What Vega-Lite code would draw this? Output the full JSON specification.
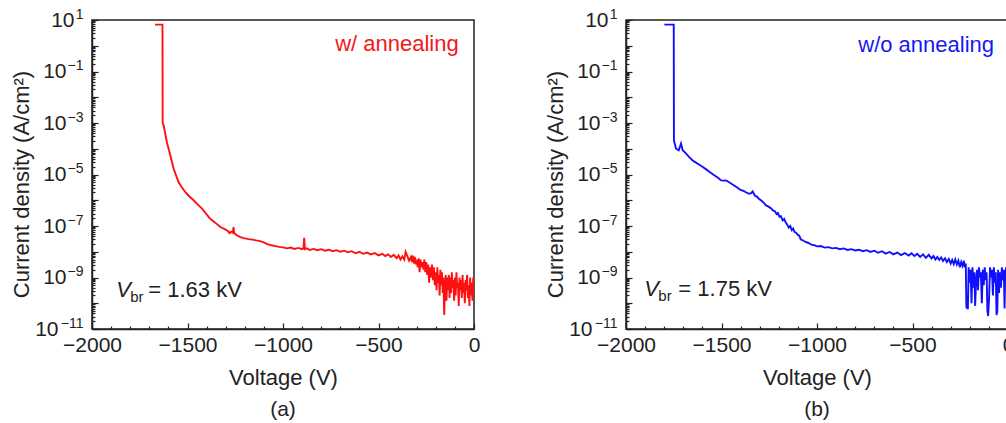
{
  "$schema": "https://vega.github.io/schema/vega-lite/v6.json",
  "background": "white",
  "padding": {"left": 9, "top": 6, "right": 0, "bottom": 0},
  "spacing": 62,
  "config": {
    "font": "Liberation Sans",
    "view": {"stroke": "#222222", "strokeWidth": 1.5},
    "axis": {
      "labelFont": "Liberation Sans", "labelFontSize": 21, "labelColor": "#222222",
      "titleFont": "Liberation Sans", "titleFontSize": 22, "titleFontWeight": "normal", "titleColor": "#222222",
      "domainColor": "#222222", "domainWidth": 1.5, "tickColor": "#222222", "tickWidth": 1.2,
      "grid": false, "labelFlush": false, "labelOverlap": false, "labelBound": false
    },
    "title": {"font": "Liberation Sans", "fontSize": 21, "fontWeight": "normal", "color": "#222222"}
  },
  "datasets": {
    "red": [
      {"v": 0, "j": 2.5e-10}, {"v": -4, "j": 1.0e-9}, {"v": -8, "j": 1.26e-10}, {"v": -12, "j": 6.3e-10},
      {"v": -16, "j": 2.0e-10}, {"v": -20, "j": 1.0e-9}, {"v": -24, "j": 7.9e-11}, {"v": -28, "j": 5.0e-10},
      {"v": -32, "j": 1.6e-10}, {"v": -36, "j": 1.26e-9}, {"v": -40, "j": 3.2e-10}, {"v": -44, "j": 7.9e-10},
      {"v": -48, "j": 1.0e-10}, {"v": -52, "j": 6.3e-10}, {"v": -56, "j": 2.5e-10}, {"v": -60, "j": 1.26e-9},
      {"v": -64, "j": 1.6e-10}, {"v": -68, "j": 7.9e-10}, {"v": -72, "j": 3.2e-10}, {"v": -76, "j": 1.0e-9},
      {"v": -80, "j": 7.9e-11}, {"v": -84, "j": 6.3e-10}, {"v": -88, "j": 4.0e-10}, {"v": -92, "j": 1.6e-9},
      {"v": -96, "j": 2.0e-10}, {"v": -100, "j": 1.0e-9}, {"v": -104, "j": 1.26e-10}, {"v": -108, "j": 7.9e-10},
      {"v": -112, "j": 4.0e-10}, {"v": -116, "j": 1.6e-9}, {"v": -120, "j": 2.5e-10}, {"v": -124, "j": 1.0e-9},
      {"v": -128, "j": 1.6e-10}, {"v": -132, "j": 1.26e-9}, {"v": -136, "j": 3.2e-10}, {"v": -140, "j": 1.0e-9},
      {"v": -144, "j": 1.26e-10}, {"v": -148, "j": 1.26e-9}, {"v": -152, "j": 4.0e-10}, {"v": -156, "j": 3.5e-11},
      {"v": -160, "j": 1.0e-9}, {"v": -164, "j": 2.5e-10}, {"v": -168, "j": 1.6e-9}, {"v": -172, "j": 5.0e-10},
      {"v": -176, "j": 2.0e-9}, {"v": -180, "j": 2.0e-10}, {"v": -184, "j": 1.26e-9}, {"v": -188, "j": 6.3e-10},
      {"v": -192, "j": 2.5e-9}, {"v": -196, "j": 3.2e-10}, {"v": -200, "j": 1.6e-9}, {"v": -205, "j": 5.0e-10},
      {"v": -210, "j": 2.5e-9}, {"v": -215, "j": 7.9e-10}, {"v": -220, "j": 3.2e-9}, {"v": -225, "j": 1.0e-9},
      {"v": -230, "j": 2.5e-9}, {"v": -235, "j": 6.3e-10}, {"v": -240, "j": 3.2e-9}, {"v": -245, "j": 1.26e-9},
      {"v": -250, "j": 4.0e-9}, {"v": -255, "j": 1.6e-9}, {"v": -260, "j": 5.0e-9}, {"v": -265, "j": 2.0e-9},
      {"v": -270, "j": 4.0e-9}, {"v": -275, "j": 2.5e-9}, {"v": -280, "j": 5.0e-9}, {"v": -285, "j": 1.6e-9},
      {"v": -290, "j": 5.6e-9}, {"v": -295, "j": 2.5e-9}, {"v": -300, "j": 5.0e-9}, {"v": -305, "j": 3.2e-9},
      {"v": -310, "j": 6.3e-9}, {"v": -315, "j": 3.5e-9}, {"v": -320, "j": 7.1e-9}, {"v": -325, "j": 4.0e-9},
      {"v": -330, "j": 6.3e-9}, {"v": -340, "j": 4.5e-9}, {"v": -350, "j": 7.1e-9}, {"v": -358, "j": 1.0e-8},
      {"v": -365, "j": 5.0e-9}, {"v": -375, "j": 6.6e-9}, {"v": -385, "j": 5.0e-9}, {"v": -395, "j": 7.2e-9},
      {"v": -405, "j": 5.6e-9}, {"v": -420, "j": 7.6e-9}, {"v": -435, "j": 6.3e-9}, {"v": -450, "j": 7.9e-9},
      {"v": -465, "j": 6.8e-9}, {"v": -480, "j": 8.3e-9}, {"v": -500, "j": 7.2e-9}, {"v": -520, "j": 8.9e-9},
      {"v": -540, "j": 7.9e-9}, {"v": -560, "j": 9.3e-9}, {"v": -580, "j": 8.3e-9}, {"v": -600, "j": 1.0e-8},
      {"v": -620, "j": 8.7e-9}, {"v": -640, "j": 1.05e-8}, {"v": -660, "j": 9.5e-9}, {"v": -680, "j": 1.1e-8},
      {"v": -700, "j": 1.0e-8}, {"v": -720, "j": 1.15e-8}, {"v": -740, "j": 1.05e-8}, {"v": -760, "j": 1.2e-8},
      {"v": -780, "j": 1.1e-8}, {"v": -800, "j": 1.26e-8}, {"v": -820, "j": 1.15e-8}, {"v": -840, "j": 1.29e-8},
      {"v": -860, "j": 1.17e-8}, {"v": -875, "j": 1.35e-8}, {"v": -885, "j": 1.26e-8}, {"v": -889, "j": 3.5e-8},
      {"v": -893, "j": 1.32e-8}, {"v": -900, "j": 1.26e-8}, {"v": -920, "j": 1.41e-8}, {"v": -940, "j": 1.29e-8},
      {"v": -960, "j": 1.45e-8}, {"v": -980, "j": 1.35e-8}, {"v": -1000, "j": 1.48e-8}, {"v": -1020, "j": 1.55e-8},
      {"v": -1040, "j": 1.66e-8}, {"v": -1060, "j": 1.78e-8}, {"v": -1080, "j": 1.95e-8}, {"v": -1100, "j": 2.3e-8},
      {"v": -1120, "j": 2.6e-8}, {"v": -1140, "j": 2.75e-8}, {"v": -1160, "j": 2.95e-8}, {"v": -1180, "j": 3.1e-8},
      {"v": -1200, "j": 3.3e-8}, {"v": -1223, "j": 3.7e-8}, {"v": -1240, "j": 4.3e-8}, {"v": -1250, "j": 4.9e-8},
      {"v": -1256, "j": 5.6e-8}, {"v": -1259, "j": 9.1e-8}, {"v": -1263, "j": 5.5e-8}, {"v": -1272, "j": 6.0e-8},
      {"v": -1280, "j": 5.2e-8}, {"v": -1287, "j": 6.3e-8}, {"v": -1305, "j": 7.6e-8}, {"v": -1328, "j": 9.1e-8},
      {"v": -1355, "j": 1.35e-7}, {"v": -1381, "j": 1.9e-7}, {"v": -1403, "j": 3.0e-7}, {"v": -1424, "j": 4.7e-7},
      {"v": -1446, "j": 6.8e-7}, {"v": -1468, "j": 1.0e-6}, {"v": -1490, "j": 1.4e-6}, {"v": -1512, "j": 2.1e-6},
      {"v": -1530, "j": 3.2e-6}, {"v": -1547, "j": 5.1e-6}, {"v": -1560, "j": 9.3e-6}, {"v": -1573, "j": 1.7e-5},
      {"v": -1581, "j": 3.0e-5}, {"v": -1590, "j": 5.6e-5}, {"v": -1599, "j": 1.0e-4}, {"v": -1608, "j": 1.8e-4},
      {"v": -1617, "j": 4.0e-4}, {"v": -1625, "j": 8.1e-4}, {"v": -1630, "j": 1.0e-3}, {"v": -1631, "j": 6.6},
      {"v": -1670, "j": 6.6}
    ],
    "blue": [
      {"v": 0, "j": 2.0e-9}, {"v": -5, "j": 5.0e-10}, {"v": -10, "j": 2.5e-9}, {"v": -15, "j": 1.0e-9},
      {"v": -18, "j": 6.3e-11}, {"v": -22, "j": 2.0e-9}, {"v": -27, "j": 7.9e-10}, {"v": -32, "j": 2.5e-9},
      {"v": -37, "j": 4.0e-10}, {"v": -42, "j": 1.6e-9}, {"v": -47, "j": 2.5e-10}, {"v": -52, "j": 2.0e-9},
      {"v": -56, "j": 5.0e-11}, {"v": -60, "j": 3.5e-11}, {"v": -64, "j": 1.6e-9}, {"v": -69, "j": 6.3e-10},
      {"v": -74, "j": 2.5e-9}, {"v": -79, "j": 2.0e-10}, {"v": -84, "j": 2.0e-9}, {"v": -89, "j": 1.0e-9},
      {"v": -94, "j": 2.5e-9}, {"v": -99, "j": 1.6e-10}, {"v": -104, "j": 3.2e-11}, {"v": -108, "j": 5.0e-11},
      {"v": -112, "j": 1.6e-9}, {"v": -117, "j": 7.9e-10}, {"v": -122, "j": 2.5e-9}, {"v": -127, "j": 5.0e-10},
      {"v": -132, "j": 2.0e-9}, {"v": -137, "j": 1.0e-10}, {"v": -142, "j": 1.6e-9}, {"v": -147, "j": 1.0e-9},
      {"v": -152, "j": 2.5e-9}, {"v": -157, "j": 3.2e-10}, {"v": -162, "j": 2.0e-9}, {"v": -167, "j": 7.9e-10},
      {"v": -172, "j": 7.9e-11}, {"v": -176, "j": 1.6e-9}, {"v": -181, "j": 4.0e-10}, {"v": -186, "j": 2.5e-9},
      {"v": -191, "j": 1.0e-10}, {"v": -196, "j": 2.0e-9}, {"v": -201, "j": 6.3e-10}, {"v": -206, "j": 2.5e-9},
      {"v": -210, "j": 6.3e-11}, {"v": -214, "j": 6.3e-11}, {"v": -218, "j": 7.1e-11}, {"v": -221, "j": 3.5e-9},
      {"v": -226, "j": 2.5e-9}, {"v": -231, "j": 4.5e-9}, {"v": -238, "j": 2.8e-9}, {"v": -245, "j": 4.0e-9},
      {"v": -252, "j": 2.5e-9}, {"v": -260, "j": 4.5e-9}, {"v": -268, "j": 3.2e-9}, {"v": -276, "j": 5.0e-9},
      {"v": -284, "j": 3.3e-9}, {"v": -292, "j": 4.8e-9}, {"v": -300, "j": 3.5e-9}, {"v": -310, "j": 5.2e-9},
      {"v": -320, "j": 4.0e-9}, {"v": -330, "j": 5.6e-9}, {"v": -340, "j": 4.4e-9}, {"v": -350, "j": 6.0e-9},
      {"v": -360, "j": 4.8e-9}, {"v": -370, "j": 6.3e-9}, {"v": -380, "j": 5.0e-9}, {"v": -390, "j": 6.8e-9},
      {"v": -400, "j": 5.5e-9}, {"v": -415, "j": 7.6e-9}, {"v": -430, "j": 5.8e-9}, {"v": -445, "j": 7.9e-9},
      {"v": -460, "j": 6.3e-9}, {"v": -475, "j": 8.3e-9}, {"v": -490, "j": 6.8e-9}, {"v": -505, "j": 8.7e-9},
      {"v": -520, "j": 7.1e-9}, {"v": -540, "j": 8.9e-9}, {"v": -560, "j": 7.4e-9}, {"v": -580, "j": 9.3e-9},
      {"v": -600, "j": 7.9e-9}, {"v": -620, "j": 9.8e-9}, {"v": -640, "j": 8.5e-9}, {"v": -660, "j": 1.05e-8},
      {"v": -680, "j": 9.1e-9}, {"v": -700, "j": 1.1e-8}, {"v": -720, "j": 9.8e-9}, {"v": -740, "j": 1.15e-8},
      {"v": -760, "j": 1.05e-8}, {"v": -780, "j": 1.2e-8}, {"v": -800, "j": 1.12e-8}, {"v": -820, "j": 1.26e-8},
      {"v": -840, "j": 1.17e-8}, {"v": -860, "j": 1.35e-8}, {"v": -880, "j": 1.26e-8}, {"v": -900, "j": 1.41e-8},
      {"v": -920, "j": 1.35e-8}, {"v": -940, "j": 1.51e-8}, {"v": -960, "j": 1.45e-8}, {"v": -980, "j": 1.66e-8},
      {"v": -1000, "j": 1.62e-8}, {"v": -1015, "j": 1.82e-8}, {"v": -1030, "j": 1.9e-8}, {"v": -1045, "j": 2.19e-8},
      {"v": -1060, "j": 2.4e-8}, {"v": -1075, "j": 2.8e-8}, {"v": -1085, "j": 3.0e-8}, {"v": -1093, "j": 4.2e-8},
      {"v": -1100, "j": 4.5e-8}, {"v": -1110, "j": 5.5e-8}, {"v": -1118, "j": 5.9e-8}, {"v": -1125, "j": 7.9e-8},
      {"v": -1132, "j": 6.9e-8}, {"v": -1140, "j": 1.0e-7}, {"v": -1148, "j": 8.7e-8}, {"v": -1155, "j": 1.1e-7},
      {"v": -1165, "j": 1.41e-7}, {"v": -1172, "j": 1.9e-7}, {"v": -1180, "j": 1.66e-7}, {"v": -1189, "j": 2.4e-7},
      {"v": -1197, "j": 2.3e-7}, {"v": -1205, "j": 3.2e-7}, {"v": -1212, "j": 2.9e-7}, {"v": -1220, "j": 3.7e-7},
      {"v": -1232, "j": 4.1e-7}, {"v": -1240, "j": 4.8e-7}, {"v": -1250, "j": 5.4e-7}, {"v": -1258, "j": 5.9e-7},
      {"v": -1267, "j": 6.3e-7}, {"v": -1276, "j": 7.6e-7}, {"v": -1290, "j": 9.5e-7}, {"v": -1303, "j": 1.12e-6},
      {"v": -1315, "j": 1.38e-6}, {"v": -1325, "j": 1.5e-6}, {"v": -1337, "j": 2.2e-6}, {"v": -1345, "j": 1.9e-6},
      {"v": -1355, "j": 1.78e-6}, {"v": -1370, "j": 2.0e-6}, {"v": -1385, "j": 2.3e-6}, {"v": -1400, "j": 2.5e-6},
      {"v": -1420, "j": 3.2e-6}, {"v": -1440, "j": 4.0e-6}, {"v": -1460, "j": 5.0e-6}, {"v": -1476, "j": 5.9e-6},
      {"v": -1490, "j": 5.8e-6}, {"v": -1502, "j": 5.9e-6}, {"v": -1520, "j": 7.6e-6}, {"v": -1540, "j": 9.5e-6},
      {"v": -1562, "j": 1.26e-5}, {"v": -1580, "j": 1.58e-5}, {"v": -1600, "j": 2.0e-5}, {"v": -1620, "j": 2.5e-5},
      {"v": -1640, "j": 3.1e-5}, {"v": -1651, "j": 3.5e-5}, {"v": -1670, "j": 4.8e-5}, {"v": -1690, "j": 7.1e-5},
      {"v": -1703, "j": 8.7e-5}, {"v": -1712, "j": 1.58e-4}, {"v": -1724, "j": 8.7e-5}, {"v": -1738, "j": 1.0e-4},
      {"v": -1749, "j": 2.1e-4}, {"v": -1750, "j": 6.6}, {"v": -1799, "j": 6.6}
    ]
  },
  "hconcat": [
    {
      "width": 382, "height": 309,
      "title": {"text": "(a)", "orient": "bottom", "offset": 11},
      "resolve": {"axis": {"x": "independent", "y": "independent"}},
      "layer": [
        {
          "data": {"name": "red"},
          "mark": {"type": "line", "color": "#ff1010", "strokeWidth": 1.9, "clip": true},
          "encoding": {
            "x": {"field": "v", "type": "quantitative", "scale": {"domain": [-2000, 0]},
              "axis": {"orient": "bottom", "title": "Voltage (V)", "values": [-2000, -1500, -1000, -500, 0], "format": "d", "tickSize": -6, "labelPadding": 11, "titlePadding": 12}},
            "y": {"field": "j", "type": "quantitative", "scale": {"type": "log", "domain": [1e-11, 10]},
              "axis": {"orient": "left", "title": "Current density (A/cm²)", "labels": false, "titlePadding": 58, "titleY": 164,
                "values": [1e-11, 1e-10, 1e-9, 1e-8, 1e-7, 1e-6, 1e-5, 1e-4, 0.001, 0.01, 0.1, 1, 10], "tickSize": -6}}
          }
        },
        {
          "data": {"name": "red"},
          "mark": {"type": "point", "opacity": 0},
          "encoding": {
            "x": {"field": "v", "type": "quantitative", "scale": {"domain": [-2000, 0]},
              "axis": {"orient": "bottom", "title": null, "labels": false, "domain": false, "tickSize": -3,
                "values": [-1900, -1800, -1700, -1600, -1400, -1300, -1200, -1100, -900, -800, -700, -600, -400, -300, -200, -100]}},
            "y": {"field": "j", "type": "quantitative", "scale": {"type": "log", "domain": [1e-11, 10]},
              "axis": {"orient": "left", "title": null, "labels": false, "domain": false, "tickSize": -3,
                "values": [2e-11,3e-11,4e-11,5e-11,6e-11,7e-11,8e-11,9e-11,2e-10,3e-10,4e-10,5e-10,6e-10,7e-10,8e-10,9e-10,2e-9,3e-9,4e-9,5e-9,6e-9,7e-9,8e-9,9e-9,2e-8,3e-8,4e-8,5e-8,6e-8,7e-8,8e-8,9e-8,2e-7,3e-7,4e-7,5e-7,6e-7,7e-7,8e-7,9e-7,2e-6,3e-6,4e-6,5e-6,6e-6,7e-6,8e-6,9e-6,2e-5,3e-5,4e-5,5e-5,6e-5,7e-5,8e-5,9e-5,2e-4,3e-4,4e-4,5e-4,6e-4,7e-4,8e-4,9e-4,0.002,0.003,0.004,0.005,0.006,0.007,0.008,0.009,0.02,0.03,0.04,0.05,0.06,0.07,0.08,0.09,0.2,0.3,0.4,0.5,0.6,0.7,0.8,0.9,2,3,4,5,6,7,8,9]}}
          }
        },
        {
          "data": {"name": "red"},
          "mark": {"type": "point", "opacity": 0},
          "encoding": {
            "x": {"field": "v", "type": "quantitative", "axis": null},
            "y": {"field": "j", "type": "quantitative", "scale": {"type": "log", "domain": [1e-11, 10]},
              "axis": {"orient": "left", "title": null, "ticks": false, "domain": false, "values": [10], "labelExpr": "'10'", "labelPadding": 18}}
          }
        },
        {
          "data": {"name": "red"},
          "mark": {"type": "point", "opacity": 0},
          "encoding": {
            "x": {"field": "v", "type": "quantitative", "axis": null},
            "y": {"field": "j", "type": "quantitative", "scale": {"type": "log", "domain": [1e-11, 10]},
              "axis": {"orient": "left", "title": null, "ticks": false, "domain": false, "values": [0.1, 0.001, 1e-5, 1e-7, 1e-9], "labelExpr": "'10'", "labelPadding": 26}}
          }
        },
        {
          "data": {"name": "red"},
          "mark": {"type": "point", "opacity": 0},
          "encoding": {
            "x": {"field": "v", "type": "quantitative", "axis": null},
            "y": {"field": "j", "type": "quantitative", "scale": {"type": "log", "domain": [1e-11, 10]},
              "axis": {"orient": "left", "title": null, "ticks": false, "domain": false, "values": [1e-11], "labelExpr": "'10'", "labelPadding": 34}}
          }
        },
        {
          "data": {"name": "red"},
          "mark": {"type": "point", "opacity": 0},
          "encoding": {
            "x": {"field": "v", "type": "quantitative", "axis": null},
            "y": {"field": "j", "type": "quantitative", "scale": {"type": "log", "domain": [1e-11, 10]},
              "axis": {"orient": "left", "title": null, "ticks": false, "domain": false, "values": [10, 0.1, 0.001, 1e-5, 1e-7, 1e-9, 1e-11],
                "labelExpr": "replace('' + round(log(datum.value)/LN10), '-', '−')", "labelFontSize": 14, "labelOffset": -6, "labelPadding": 9}}
          }
        },
        {
          "data": {"values": [{"v": -80, "j": 1.17, "t": "w/ annealing"}]},
          "mark": {"type": "text", "align": "right", "baseline": "middle", "fontSize": 22, "color": "#f01818"},
          "encoding": {
            "x": {"field": "v", "type": "quantitative", "axis": null},
            "y": {"field": "j", "type": "quantitative", "axis": null},
            "text": {"field": "t"}
          }
        },
        {
          "data": {"values": [{"v": -1873, "j": 3.2e-10, "t": "V"}]},
          "mark": {"type": "text", "align": "left", "baseline": "middle", "fontSize": 22, "fontStyle": "italic", "color": "#222222"},
          "encoding": {
            "x": {"field": "v", "type": "quantitative", "axis": null},
            "y": {"field": "j", "type": "quantitative", "axis": null},
            "text": {"field": "t"}
          }
        },
        {
          "data": {"values": [{"v": -1873, "j": 3.2e-10, "t": "br"}]},
          "mark": {"type": "text", "align": "left", "baseline": "middle", "fontSize": 15, "dx": 14, "dy": 7, "color": "#222222"},
          "encoding": {
            "x": {"field": "v", "type": "quantitative", "axis": null},
            "y": {"field": "j", "type": "quantitative", "axis": null},
            "text": {"field": "t"}
          }
        },
        {
          "data": {"values": [{"v": -1873, "j": 3.2e-10, "t": "= 1.63 kV"}]},
          "mark": {"type": "text", "align": "left", "baseline": "middle", "fontSize": 22, "dx": 32, "color": "#222222"},
          "encoding": {
            "x": {"field": "v", "type": "quantitative", "axis": null},
            "y": {"field": "j", "type": "quantitative", "axis": null},
            "text": {"field": "t"}
          }
        }
      ]
    },
    {
      "width": 382, "height": 309,
      "title": {"text": "(b)", "orient": "bottom", "offset": 11},
      "resolve": {"axis": {"x": "independent", "y": "independent"}},
      "layer": [
        {
          "data": {"name": "blue"},
          "mark": {"type": "line", "color": "#1010ff", "strokeWidth": 1.9, "clip": true},
          "encoding": {
            "x": {"field": "v", "type": "quantitative", "scale": {"domain": [-2000, 0]},
              "axis": {"orient": "bottom", "title": "Voltage (V)", "values": [-2000, -1500, -1000, -500, 0], "format": "d", "tickSize": -6, "labelPadding": 11, "titlePadding": 12}},
            "y": {"field": "j", "type": "quantitative", "scale": {"type": "log", "domain": [1e-11, 10]},
              "axis": {"orient": "left", "title": "Current density (A/cm²)", "labels": false, "titlePadding": 58, "titleY": 164,
                "values": [1e-11, 1e-10, 1e-9, 1e-8, 1e-7, 1e-6, 1e-5, 1e-4, 0.001, 0.01, 0.1, 1, 10], "tickSize": -6}}
          }
        },
        {
          "data": {"name": "blue"},
          "mark": {"type": "point", "opacity": 0},
          "encoding": {
            "x": {"field": "v", "type": "quantitative", "scale": {"domain": [-2000, 0]},
              "axis": {"orient": "bottom", "title": null, "labels": false, "domain": false, "tickSize": -3,
                "values": [-1900, -1800, -1700, -1600, -1400, -1300, -1200, -1100, -900, -800, -700, -600, -400, -300, -200, -100]}},
            "y": {"field": "j", "type": "quantitative", "scale": {"type": "log", "domain": [1e-11, 10]},
              "axis": {"orient": "left", "title": null, "labels": false, "domain": false, "tickSize": -3,
                "values": [2e-11,3e-11,4e-11,5e-11,6e-11,7e-11,8e-11,9e-11,2e-10,3e-10,4e-10,5e-10,6e-10,7e-10,8e-10,9e-10,2e-9,3e-9,4e-9,5e-9,6e-9,7e-9,8e-9,9e-9,2e-8,3e-8,4e-8,5e-8,6e-8,7e-8,8e-8,9e-8,2e-7,3e-7,4e-7,5e-7,6e-7,7e-7,8e-7,9e-7,2e-6,3e-6,4e-6,5e-6,6e-6,7e-6,8e-6,9e-6,2e-5,3e-5,4e-5,5e-5,6e-5,7e-5,8e-5,9e-5,2e-4,3e-4,4e-4,5e-4,6e-4,7e-4,8e-4,9e-4,0.002,0.003,0.004,0.005,0.006,0.007,0.008,0.009,0.02,0.03,0.04,0.05,0.06,0.07,0.08,0.09,0.2,0.3,0.4,0.5,0.6,0.7,0.8,0.9,2,3,4,5,6,7,8,9]}}
          }
        },
        {
          "data": {"name": "blue"},
          "mark": {"type": "point", "opacity": 0},
          "encoding": {
            "x": {"field": "v", "type": "quantitative", "axis": null},
            "y": {"field": "j", "type": "quantitative", "scale": {"type": "log", "domain": [1e-11, 10]},
              "axis": {"orient": "left", "title": null, "ticks": false, "domain": false, "values": [10], "labelExpr": "'10'", "labelPadding": 18}}
          }
        },
        {
          "data": {"name": "blue"},
          "mark": {"type": "point", "opacity": 0},
          "encoding": {
            "x": {"field": "v", "type": "quantitative", "axis": null},
            "y": {"field": "j", "type": "quantitative", "scale": {"type": "log", "domain": [1e-11, 10]},
              "axis": {"orient": "left", "title": null, "ticks": false, "domain": false, "values": [0.1, 0.001, 1e-5, 1e-7, 1e-9], "labelExpr": "'10'", "labelPadding": 26}}
          }
        },
        {
          "data": {"name": "blue"},
          "mark": {"type": "point", "opacity": 0},
          "encoding": {
            "x": {"field": "v", "type": "quantitative", "axis": null},
            "y": {"field": "j", "type": "quantitative", "scale": {"type": "log", "domain": [1e-11, 10]},
              "axis": {"orient": "left", "title": null, "ticks": false, "domain": false, "values": [1e-11], "labelExpr": "'10'", "labelPadding": 34}}
          }
        },
        {
          "data": {"name": "blue"},
          "mark": {"type": "point", "opacity": 0},
          "encoding": {
            "x": {"field": "v", "type": "quantitative", "axis": null},
            "y": {"field": "j", "type": "quantitative", "scale": {"type": "log", "domain": [1e-11, 10]},
              "axis": {"orient": "left", "title": null, "ticks": false, "domain": false, "values": [10, 0.1, 0.001, 1e-5, 1e-7, 1e-9, 1e-11],
                "labelExpr": "replace('' + round(log(datum.value)/LN10), '-', '−')", "labelFontSize": 14, "labelOffset": -6, "labelPadding": 9}}
          }
        },
        {
          "data": {"values": [{"v": -73, "j": 1.07, "t": "w/o annealing"}]},
          "mark": {"type": "text", "align": "right", "baseline": "middle", "fontSize": 22, "color": "#1818f0"},
          "encoding": {
            "x": {"field": "v", "type": "quantitative", "axis": null},
            "y": {"field": "j", "type": "quantitative", "axis": null},
            "text": {"field": "t"}
          }
        },
        {
          "data": {"values": [{"v": -1904, "j": 3.5e-10, "t": "V"}]},
          "mark": {"type": "text", "align": "left", "baseline": "middle", "fontSize": 22, "fontStyle": "italic", "color": "#222222"},
          "encoding": {
            "x": {"field": "v", "type": "quantitative", "axis": null},
            "y": {"field": "j", "type": "quantitative", "axis": null},
            "text": {"field": "t"}
          }
        },
        {
          "data": {"values": [{"v": -1904, "j": 3.5e-10, "t": "br"}]},
          "mark": {"type": "text", "align": "left", "baseline": "middle", "fontSize": 15, "dx": 14, "dy": 7, "color": "#222222"},
          "encoding": {
            "x": {"field": "v", "type": "quantitative", "axis": null},
            "y": {"field": "j", "type": "quantitative", "axis": null},
            "text": {"field": "t"}
          }
        },
        {
          "data": {"values": [{"v": -1904, "j": 3.5e-10, "t": "= 1.75 kV"}]},
          "mark": {"type": "text", "align": "left", "baseline": "middle", "fontSize": 22, "dx": 34, "color": "#222222"},
          "encoding": {
            "x": {"field": "v", "type": "quantitative", "axis": null},
            "y": {"field": "j", "type": "quantitative", "axis": null},
            "text": {"field": "t"}
          }
        }
      ]
    }
  ]
}
